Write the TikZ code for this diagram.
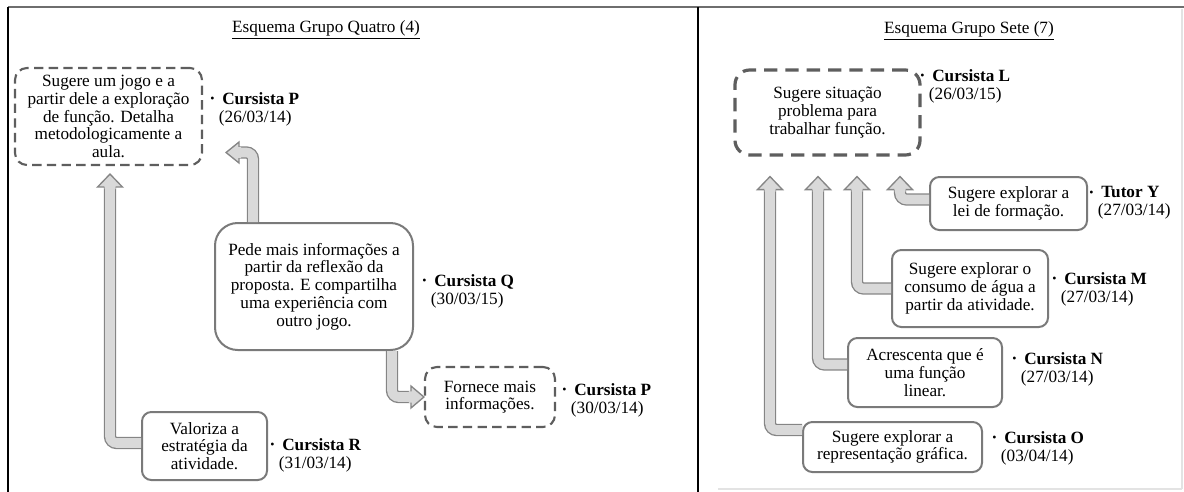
\documentclass[tikz,border=0pt]{standalone}
\usepackage{fontspec}
\setmainfont{Liberation Serif}
\usetikzlibrary{calc}
\definecolor{afill}{HTML}{D9D9D9}
\definecolor{aline}{HTML}{858585}
\definecolor{bline}{HTML}{7A7A7A}
\definecolor{dline}{HTML}{5E5E5E}
\definecolor{frameg}{HTML}{6E6E6E}
\definecolor{faint}{HTML}{E3E3E3}
\newcommand\headup[1]{%
  \fill[afill] (#1) -- ++(-12.5,13) -- ++(7,0) -- ++(0,2) -- ++(11,0) -- ++(0,-2) -- ++(7,0) -- cycle;
  \draw[arrowedge] ($(#1)+(-5.6,13)$) -- ++(-6.9,0) -- (#1) -- ++(12.5,13) -- ++(-6.9,0);}
\newcommand\headleft[1]{%
  \fill[afill] (#1) -- ++(13,-10.5) -- ++(0,5) -- ++(2,0) -- ++(0,11) -- ++(-2,0) -- ++(0,5) -- cycle;
  \draw[arrowedge] ($(#1)+(13,-5.6)$) -- ++(0,-4.9) -- (#1) -- ++(13,10.5) -- ++(0,-4.9);}
\newcommand\headright[1]{%
  \fill[afill] (#1) -- ++(-13,-11) -- ++(0,5) -- ++(-2,0) -- ++(0,12) -- ++(2,0) -- ++(0,5) -- cycle;
  \draw[arrowedge] ($(#1)+(-13,-5.6)$) -- ++(0,-5.4) -- (#1) -- ++(-13,11) -- ++(0,-5.4);}
\newcommand\who[2]{\makebox[9pt][l]{\fontsize{9}{9}\selectfont\raisebox{1.2pt}{•}}\textbf{#1}\\\hspace{6.5pt}#2}
\begin{document}
\begin{tikzpicture}[x=0.75pt,y=-0.75pt,
  font=\fontsize{12.9}{13.3}\selectfont,
  boxsize/.style 2 args={minimum width=#1*0.75pt, minimum height=#2*0.75pt},
  solidbox/.style={draw=bline, line width=1.5pt, fill=white, align=center, inner sep=0pt, rounded corners=7pt},
  dashbox/.style={draw=dline, line width=1.6pt, fill=white, align=center, inner sep=0pt, rounded corners=9pt, dash pattern=on 7pt off 4pt},
  thickdash/.style={draw=dline, line width=2.4pt, fill=white, align=center, inner sep=0pt, rounded corners=11pt, dash pattern=on 10pt off 6pt},
  who/.style={anchor=west, align=left, inner sep=0pt},
  shaft/.style={draw=aline, line width=1pt, double=afill, double distance=7.2pt, rounded corners=5pt},
  arrowedge/.style={draw=aline, line width=1pt, line join=miter},
  title/.style={inner sep=0pt}]
\useasboundingbox (0,0) rectangle (1184,492);
% frame
\draw[frameg, line width=1.5pt] (8,7.5) -- (1184,7.5);
\draw[black, line width=1.2pt] (8,7) -- (8,492);
\draw[black, line width=1.2pt] (698,7) -- (698,492);
\draw[faint, line width=1pt] (1182,9) -- (1182,489) (718,489) -- (1182,489);
% titles
\node[title] (t1) at (326,30) {\underline{Esquema Grupo Quatro (4)}};
\node[title] (t2) at (969,31) {\underline{Esquema Grupo Sete (7)}};
% left boxes
\node[dashbox, boxsize={187}{97}] (A) at (108.5,116.5) {Sugere um jogo e a\\partir dele a exploração\\de função. Detalha\\metodologicamente a\\aula.};
\node[solidbox, boxsize={198}{127}, rounded corners=17pt] (Q) at (314,286.5) {Pede mais informações a\\partir da reflexão da\\proposta. E compartilha\\uma experiência com\\outro jogo.};
\node[dashbox, boxsize={130}{60}] (P2) at (490,397) {Fornece mais\\informações.};
\node[solidbox, boxsize={125}{68}] (R) at (204.5,446) {Valoriza a\\estratégia da\\atividade.};
% right boxes
\node[thickdash, boxsize={185}{85}] (L) at (827.5,112.5) {Sugere situação\\problema para\\trabalhar função.};
\node[solidbox, boxsize={157}{53}] (Y) at (1008.5,203.5) {Sugere explorar a\\lei de formação.};
\node[solidbox, boxsize={156}{77}] (M) at (970,288.5) {Sugere explorar o\\consumo de água a\\partir da atividade.};
\node[solidbox, boxsize={154}{69}] (N) at (925,372.5) {Acrescenta que é\\uma função\\linear.};
\node[solidbox, boxsize={179}{50}] (O) at (892.5,447) {Sugere explorar a\\representação gráfica.};
% labels
\node[who] (wA) at (210,109) {\who{Cursista P}{(26/03/14)}};
\node[who] (wQ) at (422,291) {\who{Cursista Q}{(30/03/15)}};
\node[who] (wP) at (562,400) {\who{Cursista P}{(30/03/14)}};
\node[who] (wR) at (270,455) {\who{Cursista R}{(31/03/14)}};
\node[who] (wL) at (920,86) {\who{Cursista L}{(26/03/15)}};
\node[who] (wY) at (1089,203) {\who{Tutor Y}{(27/03/14)}};
\node[who] (wM) at (1052,289) {\who{Cursista M}{(27/03/14)}};
\node[who] (wN) at (1012,369) {\who{Cursista N}{(27/03/14)}};
\node[who] (wO) at (992,448) {\who{Cursista O}{(03/04/14)}};
% arrow tips
\coordinate (tRA) at ($(A.south)+(1.5,8)$);
\coordinate (tQA) at ($(A.east)+(23,36)$);
\coordinate (tQP) at (P2.west);
\coordinate (tOL) at ($(L.south)+(-57.5,20)$);
\coordinate (tNL) at ($(L.south)+(-9.5,20)$);
\coordinate (tML) at ($(L.south)+(29.5,20)$);
\coordinate (tYL) at ($(L.south)+(72.5,20)$);
% arrows
\draw[shaft] ($(R.west)+(0,-3)$) -| ($(tRA)+(0,13)$);
\headup{tRA}
\draw[shaft] ($(Q.north)+(-61,0)$) |- ($(tQA)+(13,0)$);
\headleft{tQA}
\draw[shaft] ($(Q.south)+(78,0)$) |- ($(tQP)+(-13,0)$);
\headright{tQP}
\draw[shaft] ($(O.west)+(0,-17)$) -| ($(tOL)+(0,13)$);
\headup{tOL}
\draw[shaft] ($(N.west)+(0,-8)$) -| ($(tNL)+(0,13)$);
\headup{tNL}
\draw[shaft] (M.west) -| ($(tML)+(0,13)$);
\headup{tML}
\draw[shaft] ($(Y.west)+(0,-4)$) -| ($(tYL)+(0,13)$);
\headup{tYL}
\end{tikzpicture}
\end{document}
